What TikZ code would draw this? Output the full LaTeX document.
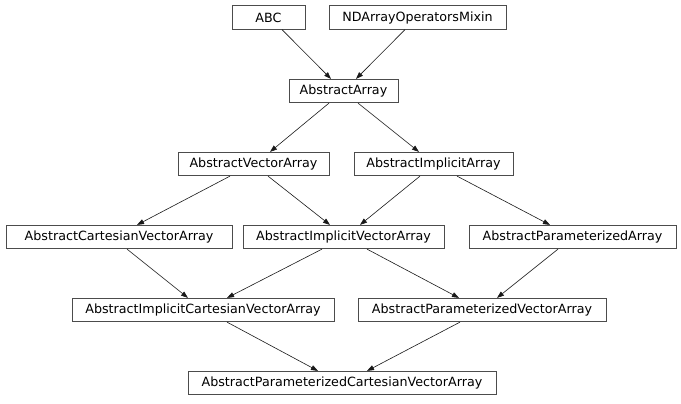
\documentclass[tikz,border=0pt]{standalone}
\usepackage{fontspec}
\setmainfont{DejaVu Sans}
\usetikzlibrary{arrows.meta}
\tikzset{
  cls/.style={draw=black!70, line width=0.7bp, fill=white, rectangle, inner sep=0pt,
    minimum height=23.5bp, font=\fontsize{12.7bp}{15bp}\selectfont},
  edge/.style={draw=black!90, line width=0.6bp, -{Triangle[length=7bp,width=5bp]}}
}
\begin{document}
\begin{tikzpicture}[x=1bp,y=-1bp]
\useasboundingbox (0,0) rectangle (681,403);
\node[cls, minimum width=73bp]  (abc)   at (268.5,17.5) {ABC};
\node[cls, minimum width=177bp] (nda)   at (417.5,17.5) {NDArrayOperatorsMixin};
\node[cls, minimum width=109bp] (aa)    at (343.5,91) {AbstractArray};
\node[cls, minimum width=151bp] (ava)   at (253.5,164) {AbstractVectorArray};
\node[cls, minimum width=159bp] (aia)   at (433.5,164) {AbstractImplicitArray};
\node[cls, minimum width=226bp] (acva)  at (119,237) {AbstractCartesianVectorArray};
\node[cls, minimum width=201bp] (aiva)  at (343.5,237) {AbstractImplicitVectorArray};
\node[cls, minimum width=207bp] (apa)   at (572.5,237) {AbstractParameterizedArray};
\node[cls, minimum width=262bp] (aicva) at (203,310) {AbstractImplicitCartesianVectorArray};
\node[cls, minimum width=248bp] (apva)  at (482,310) {AbstractParameterizedVectorArray};
\node[cls, minimum width=308bp] (apcva) at (342,383) {AbstractParameterizedCartesianVectorArray};

\draw[edge] ([xshift=13.5bp]abc.south) -- ([xshift=-12.5bp]aa.north);
\draw[edge] ([xshift=-12.5bp]nda.south) -- ([xshift=12.5bp]aa.north);
\draw[edge] ([xshift=-14.5bp]aa.south) -- ([xshift=16.5bp]ava.north);
\draw[edge] ([xshift=14.5bp]aa.south) -- ([xshift=-14.5bp]aia.north);
\draw[edge] ([xshift=-23.5bp]ava.south) -- ([xshift=18bp]acva.north);
\draw[edge] ([xshift=14.5bp]ava.south) -- ([xshift=-13.5bp]aiva.north);
\draw[edge] ([xshift=-13.5bp]aia.south) -- ([xshift=16.5bp]aiva.north);
\draw[edge] ([xshift=23.5bp]aia.south) -- ([xshift=-22.5bp]apa.north);
\draw[edge] ([xshift=8bp]acva.south) -- ([xshift=-15bp]aicva.north);
\draw[edge] ([xshift=-21.5bp]aiva.south) -- ([xshift=24bp]aicva.north);
\draw[edge] ([xshift=23.5bp]aiva.south) -- ([xshift=-23bp]apva.north);
\draw[edge] ([xshift=-14.5bp]apa.south) -- ([xshift=15bp]apva.north);
\draw[edge] ([xshift=24bp]aicva.south) -- ([xshift=-24bp]apcva.north);
\draw[edge] ([xshift=-22bp]apva.south) -- ([xshift=25bp]apcva.north);
\end{tikzpicture}
\end{document}
